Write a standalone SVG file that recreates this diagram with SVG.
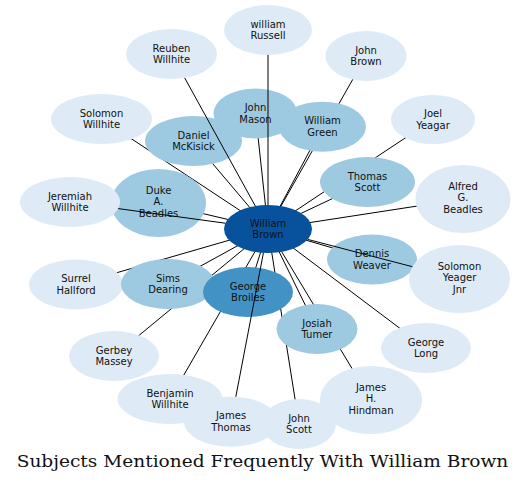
<svg xmlns="http://www.w3.org/2000/svg" width="531" height="485" viewBox="0 0 531 485">
<style>
.e{stroke:#000;stroke-width:1;fill:none}
.lt{fill:#deebf7}
.md{fill:#9ecae1}
.br{fill:#4292c6}
.ct{fill:#08519c}
.t{font-family:"DejaVu Sans",Verdana,sans-serif;font-size:10px;fill:#111;text-anchor:middle}
.title{font-family:"DejaVu Serif","Liberation Serif",serif;font-size:17.5px;fill:#111}
</style>
<rect width="531" height="485" fill="#fff"/>
<g id="edges">
<line class="e" x1="366" y1="56" x2="268" y2="229"/>
<line class="e" x1="101.5" y1="119" x2="268" y2="229"/>
<line class="e" x1="433" y1="119.5" x2="268" y2="229"/>
<line class="e" x1="193.5" y1="141" x2="268" y2="229"/>
<line class="e" x1="255.5" y1="113.5" x2="268" y2="229"/>
<line class="e" x1="322.5" y1="126.7" x2="268" y2="229"/>
<line class="e" x1="367.5" y1="182" x2="268" y2="229"/>
<line class="e" x1="463" y1="199" x2="268" y2="229"/>
<line class="e" x1="158.5" y1="203" x2="268" y2="229"/>
<line class="e" x1="76" y1="284.5" x2="268" y2="229"/>
<line class="e" x1="168" y1="284" x2="268" y2="229"/>
<line class="e" x1="248" y1="292" x2="268" y2="229"/>
<line class="e" x1="372" y1="259.5" x2="268" y2="229"/>
<line class="e" x1="114" y1="356" x2="268" y2="229"/>
<line class="e" x1="317" y1="329" x2="268" y2="229"/>
<line class="e" x1="426" y1="348" x2="268" y2="229"/>
<line class="e" x1="170" y1="399" x2="268" y2="229"/>
<line class="e" x1="299" y1="424" x2="268" y2="229"/>
<line class="e" x1="371" y1="400" x2="268" y2="229"/>
</g>
<g id="n-russell"><ellipse class="lt" cx="268" cy="30" rx="44" ry="25"/><text class="t" x="268" y="27.6">william<tspan x="268" dy="11.6">Russell</tspan></text></g>
<g id="n-reuben"><ellipse class="lt" cx="171.5" cy="54" rx="45.5" ry="25"/><text class="t" x="171.5" y="51.6">Reuben<tspan x="171.5" dy="11.6">Willhite</tspan></text></g>
<g id="n-johnbrown"><ellipse class="lt" cx="366" cy="56" rx="40.5" ry="25"/><text class="t" x="366" y="53.6">John<tspan x="366" dy="11.6">Brown</tspan></text></g>
<g id="n-solomonw"><ellipse class="lt" cx="101.5" cy="119" rx="50.5" ry="25"/><text class="t" x="101.5" y="116.6">Solomon<tspan x="101.5" dy="11.6">Willhite</tspan></text></g>
<g id="n-joel"><ellipse class="lt" cx="433" cy="119.5" rx="42" ry="24.5"/><text class="t" x="433" y="117.1">Joel<tspan x="433" dy="11.6">Yeagar</tspan></text></g>
<g id="n-mckisick"><ellipse class="md" cx="193.5" cy="141" rx="48.5" ry="25"/><text class="t" x="193.5" y="138.6">Daniel<tspan x="193.5" dy="11.6">McKisick</tspan></text></g>
<g id="n-mason"><ellipse class="md" cx="255.5" cy="113.5" rx="42" ry="25"/><text class="t" x="255.5" y="111.1">John<tspan x="255.5" dy="11.6">Mason</tspan></text></g>
<g id="n-green"><ellipse class="md" cx="322.5" cy="126.7" rx="43.5" ry="25"/><text class="t" x="322.5" y="124.3">William<tspan x="322.5" dy="11.6">Green</tspan></text></g>
<g id="n-thomasscott"><ellipse class="md" cx="367.5" cy="182" rx="47.5" ry="25"/><text class="t" x="367.5" y="179.6">Thomas<tspan x="367.5" dy="11.6">Scott</tspan></text></g>
<g id="n-alfred"><ellipse class="lt" cx="463" cy="199" rx="47.5" ry="34"/><text class="t" x="463" y="189.8">Alfred<tspan x="463" dy="11.6">G.</tspan><tspan x="463" dy="11.6">Beadles</tspan></text></g>
<g id="n-duke"><ellipse class="md" cx="158.5" cy="203" rx="47.5" ry="34"/><text class="t" x="158.5" y="193.7">Duke<tspan x="158.5" dy="11.6">A.</tspan><tspan x="158.5" dy="11.6">Beadles</tspan></text></g>
<g id="n-jeremiah"><ellipse class="lt" cx="70" cy="202" rx="50" ry="25"/><text class="t" x="70" y="199.6">Jeremiah<tspan x="70" dy="11.6">Willhite</tspan></text></g>
<g id="n-surrel"><ellipse class="lt" cx="76" cy="284.5" rx="47" ry="25"/><text class="t" x="76" y="282.1">Surrel<tspan x="76" dy="11.6">Hallford</tspan></text></g>
<g id="n-sims"><ellipse class="md" cx="168" cy="284" rx="47" ry="25"/><text class="t" x="168" y="281.6">Sims<tspan x="168" dy="11.6">Dearing</tspan></text></g>
<g id="n-broiles"><ellipse class="br" cx="248" cy="292" rx="45" ry="25"/><text class="t" x="248" y="289.6">George<tspan x="248" dy="11.6">Broiles</tspan></text></g>
<g id="n-dennis"><ellipse class="md" cx="372" cy="259.5" rx="45" ry="25"/><text class="t" x="372" y="257.1">Dennis<tspan x="372" dy="11.6">Weaver</tspan></text></g>
<g id="n-solomony"><ellipse class="lt" cx="459.5" cy="279" rx="50.5" ry="34"/><text class="t" x="459.5" y="269.8">Solomon<tspan x="459.5" dy="11.6">Yeager</tspan><tspan x="459.5" dy="11.6">Jnr</tspan></text></g>
<g id="n-gerbey"><ellipse class="lt" cx="114" cy="356" rx="45" ry="25"/><text class="t" x="114" y="353.6">Gerbey<tspan x="114" dy="11.6">Massey</tspan></text></g>
<g id="n-josiah"><ellipse class="md" cx="317" cy="329" rx="40.5" ry="25"/><text class="t" x="317" y="326.6">Josiah<tspan x="317" dy="11.6">Tumer</tspan></text></g>
<g id="n-georgelong"><ellipse class="lt" cx="426" cy="348" rx="45" ry="25"/><text class="t" x="426" y="345.6">George<tspan x="426" dy="11.6">Long</tspan></text></g>
<g id="n-benjamin"><ellipse class="lt" cx="170" cy="399" rx="52.5" ry="25"/><text class="t" x="170" y="396.6">Benjamin<tspan x="170" dy="11.6">Willhite</tspan></text></g>
<g id="n-jamesthomas"><ellipse class="lt" cx="231" cy="421.7" rx="47" ry="25"/><text class="t" x="231" y="419.3">James<tspan x="231" dy="11.6">Thomas</tspan></text></g>
<g id="n-johnscott"><ellipse class="lt" cx="299" cy="424" rx="37" ry="25"/><text class="t" x="299" y="421.6">John<tspan x="299" dy="11.6">Scott</tspan></text></g>
<g id="n-hindman"><ellipse class="lt" cx="371" cy="400" rx="51" ry="34"/><text class="t" x="371" y="390.8">James<tspan x="371" dy="11.6">H.</tspan><tspan x="371" dy="11.6">Hindman</tspan></text></g>
<g id="n-williambrown"><ellipse class="ct" cx="268" cy="229" rx="44" ry="24"/><text class="t" x="268" y="226.6">William<tspan x="268" dy="11.6">Brown</tspan></text></g>
<g id="edges-over">
<line class="e" x1="268" y1="55" x2="268" y2="205"/>
<line class="e" x1="184.7" y1="77.9" x2="255.3" y2="206"/>
<line class="e" x1="118.2" y1="208.6" x2="225.3" y2="223.2"/>
<line class="e" x1="412.4" y1="266.7" x2="307.7" y2="239.4"/>
<line class="e" x1="235.8" y1="396.8" x2="263.4" y2="252.9"/>
</g>
<text class="title" x="16.7" y="467" textLength="491.6" lengthAdjust="spacingAndGlyphs">Subjects Mentioned Frequently With William Brown</text>
</svg>
